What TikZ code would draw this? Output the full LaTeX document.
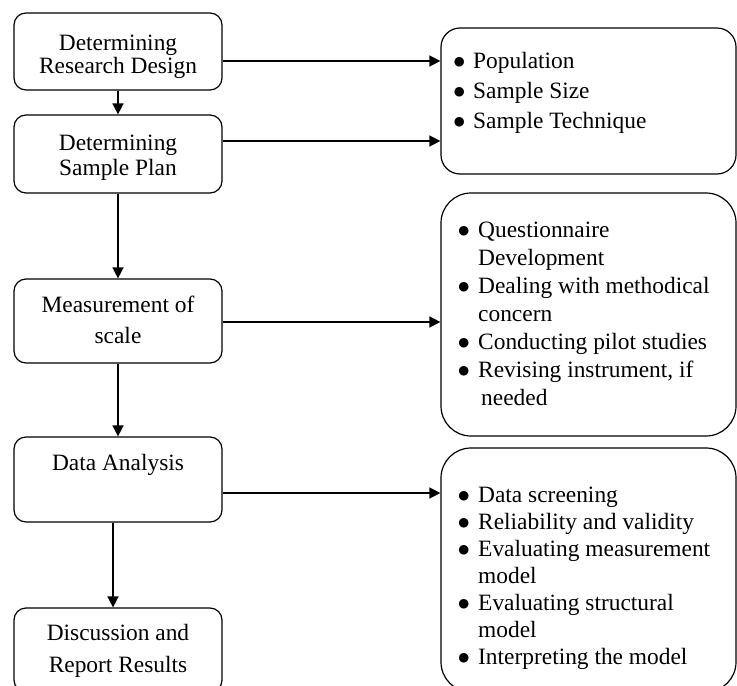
\documentclass[tikz,border=0pt]{standalone}
\usepackage{fontspec}
\setmainfont{Liberation Serif}
\newfontfamily\symfont{DejaVu Sans}
\usetikzlibrary{arrows.meta}
% bullet hung to the left of an item's first line
\newlength{\bulgap}
\setlength{\bulgap}{9pt}
\newcommand{\bul}{\llap{\raisebox{2.6pt}{\symfont\fontsize{12.5pt}{12.5pt}\selectfont ●}\hspace{\bulgap}}}
\tikzset{
  stepbox/.style={draw, line width=1.2pt, rounded corners=12pt,
    minimum width=208pt, inner sep=0pt},
  listbox/.style={draw, line width=1.2pt, rounded corners=#1,
    minimum width=295pt, inner sep=0pt},
  txt/.style={inner sep=0pt, font=\fontsize{23.4pt}{#1}\selectfont},
  arr/.style={line width=1.5pt, -{Triangle[length=11pt,width=11pt]}}
}
\begin{document}
\begin{tikzpicture}[x=1pt, y=-1pt]
\useasboundingbox (0,0) rectangle (737,686);
\clip (0,0) rectangle (737,686);

% process steps
\node[stepbox, minimum height=77pt] (design)  at (118,51.5) {};
\node[stepbox, minimum height=78pt] (sample)  at (118,154) {};
\node[stepbox, minimum height=84pt] (measure) at (118,321) {};
\node[stepbox, minimum height=85pt] (analysis) at (118,479.5) {};
\node[stepbox, minimum height=84pt] (report)  at (118,650) {};

\node[txt=23pt, anchor=base] (tdesign) at (118,50)
  {\begin{tabular}[t]{@{}c@{}}Determining\\Research Design\end{tabular}};
\node[txt=25pt, anchor=base] (tsample) at (118,150)
  {\begin{tabular}[t]{@{}c@{}}Determining\\Sample Plan\end{tabular}};
\node[txt=31pt, anchor=base] (tmeasure) at (118,312)
  {\begin{tabular}[t]{@{}c@{}}Measurement of\\scale\end{tabular}};
\node[txt=30pt, anchor=base] (tanalysis) at (118,470) {Data Analysis};
\node[txt=32pt, anchor=base] (treport) at (118,640)
  {\begin{tabular}[t]{@{}c@{}}Discussion and\\Report Results\end{tabular}};

% detail lists
\node[listbox=19pt, minimum height=146pt] (sampling) at (588.5,101) {};
\node[listbox=30pt, minimum height=243pt] (scale)    at (588.5,314.5) {};
\node[listbox=30pt, minimum height=244pt] (stats)    at (588.5,570) {};

\node[txt=30pt, anchor=base west] (lsampling) at (473,68)
  {\setlength{\bulgap}{8.5pt}\begin{tabular}[t]{@{}l@{}}\bul Population\\\bul Sample Size\\\bul Sample Technique\end{tabular}};
\node[txt=28pt, anchor=base west] (lscale) at (478,237)
  {\begin{tabular}[t]{@{}l@{}}\bul Questionnaire\\Development\\\bul Dealing with methodical\\concern\\\bul Conducting pilot studies\\\bul Revising instrument, if\\\hspace{3pt}needed\end{tabular}};
\node[txt=27pt, anchor=base west] (lstats) at (478,502)
  {\begin{tabular}[t]{@{}l@{}}\bul Data screening\\\bul Reliability and validity\\\bul Evaluating measurement\\model\\\bul Evaluating structural\\model\\\bul Interpreting the model\end{tabular}};

% heights of the horizontal connectors
\coordinate (h1) at (0,61);
\coordinate (h2) at (0,141);
\coordinate (h3) at (0,322);
\coordinate (h4) at (0,493);
\coordinate (v5) at (113,0);

% flow down the steps
\draw[arr] (design.south) -- (sample.north);
\draw[arr] (sample.south) -- (measure.north);
\draw[arr] (measure.south) -- (analysis.north);
\draw[arr] (analysis.south -| v5) -- (report.north -| v5);

% steps to their details
\draw[arr] (design.east |- h1) -- (sampling.west |- h1);
\draw[arr] (sample.east |- h2) -- (sampling.west |- h2);
\draw[arr] (measure.east |- h3) -- (scale.west |- h3);
\draw[arr] (analysis.east |- h4) -- (stats.west |- h4);
\end{tikzpicture}
\end{document}
